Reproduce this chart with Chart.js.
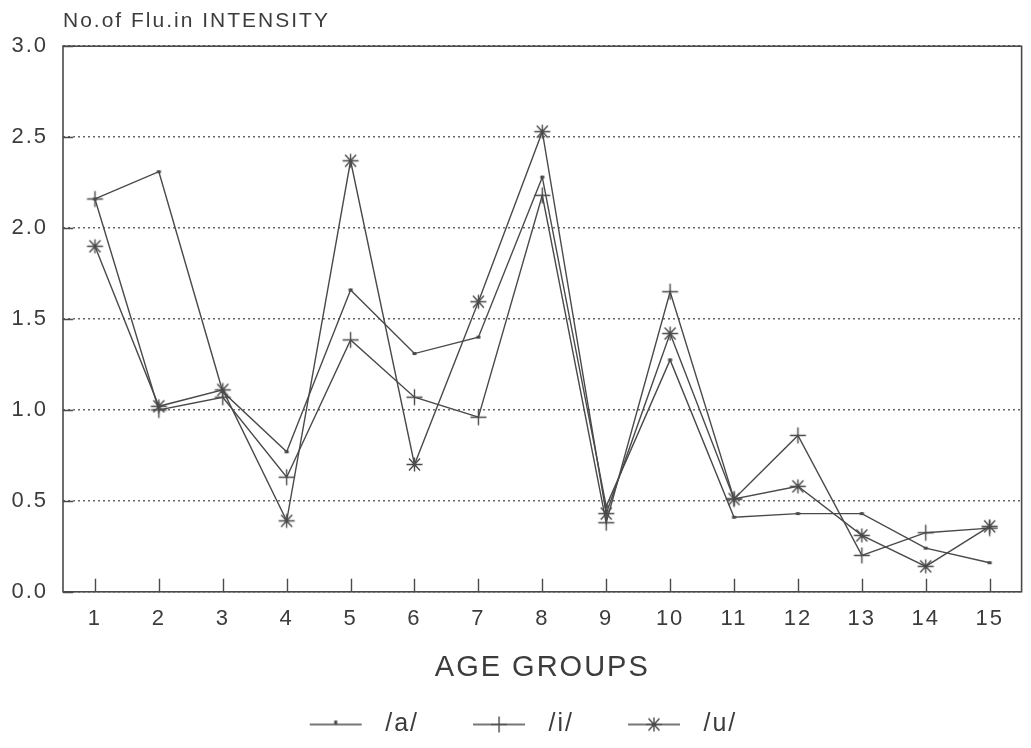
<!DOCTYPE html>
<html>
<head>
<meta charset="utf-8">
<script src="https://cdn.jsdelivr.net/npm/chart.js@4/dist/chart.umd.min.js"></script>
<style>
  html, body { margin: 0; padding: 0; background: #ffffff; }
  #wrap { width: 1031px; height: 748px; }
</style>
</head>
<body>
<div id="wrap"><canvas id="c" width="1031" height="748"></canvas></div>
<script>
// Age groups along the x axis
const ageGroups = ['1','2','3','4','5','6','7','8','9','10','11','12','13','14','15'];

// Number of fluctuations in intensity per vowel
const vowelA = [2.16, 2.31, 1.10, 0.77, 1.66, 1.31, 1.40, 2.28, 0.47, 1.275, 0.41, 0.43, 0.43, 0.24, 0.16];
const vowelI = [2.16, 1.00, 1.07, 0.63, 1.385, 1.07, 0.96, 2.18, 0.38, 1.65, 0.51, 0.86, 0.20, 0.325, 0.35];
const vowelU = [1.90, 1.02, 1.11, 0.39, 2.37, 0.70, 1.595, 2.53, 0.43, 1.42, 0.51, 0.58, 0.31, 0.14, 0.36];

const seriesNames = ['/a/', '/i/', '/u/'];
const yTicks = [0, 0.5, 1.0, 1.5, 2.0, 2.5, 3.0];

const INK = '#4a4a4a';
const TEXT = '#3c3c3c';

// Marker glyphs drawn on small canvases
function markerCanvas(kind) {
  const s = 19, c = document.createElement('canvas');
  c.width = s; c.height = s;
  const g = c.getContext('2d');
  g.strokeStyle = INK; g.fillStyle = INK; g.lineWidth = 1.4;
  drawGlyph(g, kind, s / 2, s / 2);
  return c;
}
function drawGlyph(g, kind, cx, cy) {
  g.beginPath();
  if (kind === 'dot') {
    g.fillRect(cx - 2, cy - 1.5, 4, 3);
    return;
  }
  if (kind === 'plus') {
    g.moveTo(cx - 8, cy); g.lineTo(cx + 8, cy);
    g.moveTo(cx, cy - 8); g.lineTo(cx, cy + 8);
  } else if (kind === 'aster') {
    g.moveTo(cx - 8, cy); g.lineTo(cx + 8, cy);
    g.moveTo(cx - 5.5, cy - 6); g.lineTo(cx + 5.5, cy + 6);
    g.moveTo(cx + 5.5, cy - 6); g.lineTo(cx - 5.5, cy + 6);
    g.moveTo(cx, cy - 7); g.lineTo(cx, cy + 7);
  }
  g.stroke();
}

// Legend sample: blank lead-in, then a short line with the marker in its middle
const LEAD = 22, SAMPLE = 52, SAMPLE_BOX = 85;
function legendCanvas(kind) {
  const w = SAMPLE_BOX, h = 22, c = document.createElement('canvas');
  c.width = w; c.height = h;
  const g = c.getContext('2d');
  g.strokeStyle = INK; g.fillStyle = INK; g.lineWidth = 1.4;
  g.beginPath(); g.moveTo(LEAD, h / 2); g.lineTo(LEAD + SAMPLE, h / 2); g.stroke();
  const mid = LEAD + SAMPLE / 2;
  if (kind === 'dot') {
    g.fillRect(mid - 1.5, h / 2 - 4, 3, 4);
  } else {
    drawGlyph(g, kind, mid, h / 2);
  }
  return c;
}

const kinds = ['dot', 'plus', 'aster'];
const markers = kinds.map(markerCanvas);
const legendMarks = kinds.map(legendCanvas);

// Wide, plotter-like lettering for every label
const spacingPlugin = {
  id: 'spacing',
  beforeUpdate(chart) { chart.ctx.letterSpacing = '2px'; },
  beforeDraw(chart) { chart.ctx.letterSpacing = '2px'; }
};

// Plot frame, inward tick marks on both axes
const framePlugin = {
  id: 'frame',
  beforeDatasetsDraw(chart) {
    const { ctx, chartArea: a, scales: { x, y } } = chart;
    ctx.save();
    ctx.strokeStyle = INK;
    ctx.lineWidth = 1.6;
    ctx.strokeRect(a.left, a.top, a.right - a.left, a.bottom - a.top);
    ctx.lineWidth = 1.4;
    ctx.beginPath();
    ageGroups.forEach((_, i) => {
      const px = Math.round(x.getPixelForValue(i)) + 0.5;
      ctx.moveTo(px, a.bottom);
      ctx.lineTo(px, a.bottom - 13);
    });
    yTicks.forEach(v => {
      const py = Math.round(y.getPixelForValue(v)) + 0.5;
      ctx.moveTo(a.left, py);
      ctx.lineTo(a.left + 10, py);
    });
    ctx.stroke();
    ctx.restore();
  }
};

const datasets = [vowelA, vowelI, vowelU].map((vals, k) => ({
  label: seriesNames[k],
  data: vals,
  borderColor: INK,
  backgroundColor: INK,
  borderWidth: 1.4,
  pointStyle: markers[k],
  pointRadius: 8,
  pointHoverRadius: 8,
  tension: 0,
  fill: false
}));

new Chart(document.getElementById('c'), {
  type: 'line',
  data: { labels: ageGroups, datasets },
  plugins: [spacingPlugin, framePlugin],
  options: {
    responsive: false,
    animation: false,
    devicePixelRatio: 1,
    layout: { padding: { left: 0, right: 6, top: 0, bottom: 1 } },
    plugins: {
      tooltip: { enabled: false },
      title: {
        display: true,
        text: 'No.of Flu.in INTENSITY',
        align: 'start',
        fullSize: false,
        color: TEXT,
        font: { family: 'Liberation Sans', size: 21, weight: 'normal' },
        padding: { top: 9, bottom: 12 }
      },
      legend: {
        position: 'bottom',
        labels: {
          usePointStyle: true,
          pointStyleWidth: SAMPLE_BOX,
          boxHeight: 22,
          padding: 32,
          color: TEXT,
          font: { family: 'Liberation Sans', size: 25 },
          generateLabels(chart) {
            return chart.data.datasets.map((ds, k) => ({
              text: ds.label,
              pointStyle: legendMarks[k],
              fillStyle: INK,
              strokeStyle: INK,
              lineWidth: 0,
              fontColor: TEXT,
              datasetIndex: k,
              hidden: false
            }));
          }
        }
      }
    },
    scales: {
      x: {
        type: 'category',
        offset: true,
        grid: { display: false, drawTicks: false },
        border: { display: false },
        ticks: {
          color: TEXT,
          padding: 14,
          maxRotation: 0,
          autoSkip: false,
          font: { family: 'Liberation Sans', size: 22 }
        },
        title: {
          display: true,
          text: 'AGE GROUPS',
          color: TEXT,
          font: { family: 'Liberation Sans', size: 29, lineHeight: 0.8 },
          padding: { top: 10.6, bottom: 0 }
        }
      },
      y: {
        min: 0,
        max: 3,
        afterFit(scale) { scale.width = 63; },
        afterBuildTicks(scale) { scale.ticks = yTicks.map(v => ({ value: v })); },
        grid: {
          drawTicks: false,
          color: '#666666',
          lineWidth: 1.5
        },
        border: { display: false, dash: [2, 3] },
        ticks: {
          color: TEXT,
          padding: 15,
          font: { family: 'Liberation Sans', size: 22 },
          callback: v => Number(v).toFixed(1)
        }
      }
    }
  }
});
</script>
</body>
</html>
